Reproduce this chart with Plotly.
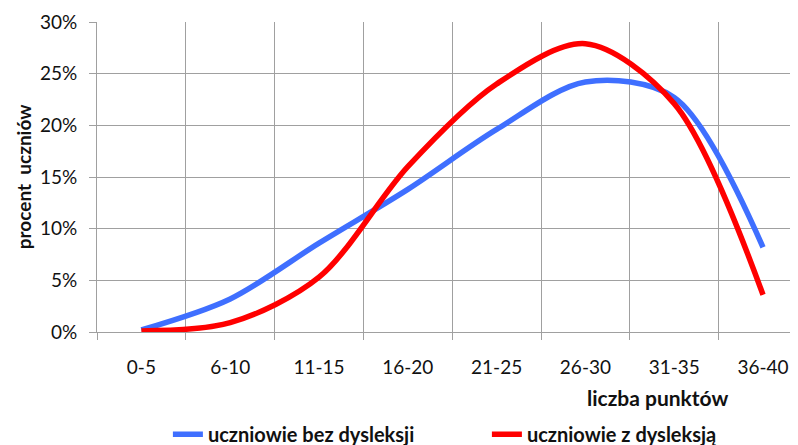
import plotly.graph_objects as go

categories = ["0-5", "6-10", "11-15", "16-20", "21-25", "26-30", "31-35", "36-40"]
bez_dysleksji = [0.2, 3.2, 8.6, 13.8, 19.6, 24.2, 22.7, 8.2]
z_dysleksja = [0.1, 0.9, 5.3, 16.0, 24.0, 27.9, 22.1, 3.6]
y_tick_values = [0, 5, 10, 15, 20, 25, 30]
y_tick_labels = ["0%", "5%", "10%", "15%", "20%", "25%", "30%"]

FONT = "Lato"
GRID = "#a0a0a0"
TXT = "#111111"

fig = go.Figure()
fig.add_trace(go.Scatter(
    x=categories, y=bez_dysleksji, mode="lines", name="uczniowie bez dysleksji",
    line=dict(color="#3f6fff", width=5.5, shape="spline", smoothing=0.9),
))
fig.add_trace(go.Scatter(
    x=categories, y=z_dysleksja, mode="lines", name="uczniowie z dysleksją",
    line=dict(color="#ff0000", width=5.5, shape="spline", smoothing=0.9),
))

fig.update_layout(
    width=798, height=445,
    margin=dict(l=89, r=0, t=14, b=121, autoexpand=False),
    paper_bgcolor="white", plot_bgcolor="white",
    font=dict(family=FONT, size=19, color=TXT),
    showlegend=True,
    legend=dict(
        orientation="h", x=0.100, xanchor="left", y=-0.33, yanchor="middle",
        font=dict(family=FONT, size=20, color=TXT, weight="bold"),
        bgcolor="rgba(0,0,0,0)", borderwidth=0,
        entrywidth=274, entrywidthmode="pixels",
    ),
    xaxis=dict(
        type="category", range=[-0.5, 7.484], tickson="boundaries",
        automargin=False,
        showgrid=True, gridcolor=GRID, gridwidth=1,
        showline=True, linecolor=GRID, linewidth=1,
        ticks="outside", ticklen=7, tickcolor=GRID,
        ticklabelstandoff=18, zeroline=False,
        tickfont=dict(family=FONT, size=19, color=TXT),
    ),
    yaxis=dict(
        range=[0, 30], tickmode="array", tickvals=y_tick_values, ticktext=y_tick_labels,
        automargin=False,
        showgrid=True, gridcolor=GRID, gridwidth=1,
        showline=True, linecolor=GRID, linewidth=1,
        ticks="outside", ticklen=7, tickcolor=GRID,
        ticklabelstandoff=8, zeroline=False,
        tickfont=dict(family=FONT, size=19, color=TXT),
    ),
    annotations=[
        dict(text="<b>procent  uczniów</b>", xref="paper", yref="paper",
             x=-0.104, y=0.5, xanchor="center", yanchor="middle", textangle=-90,
             showarrow=False, font=dict(family=FONT, size=19, color=TXT)),
        dict(text="<b>liczba punktów</b>", xref="paper", yref="paper",
             x=0.790, y=-0.212, xanchor="center", yanchor="middle",
             showarrow=False, font=dict(family=FONT, size=21, color=TXT)),
    ],
)

fig.write_html("out.html")
